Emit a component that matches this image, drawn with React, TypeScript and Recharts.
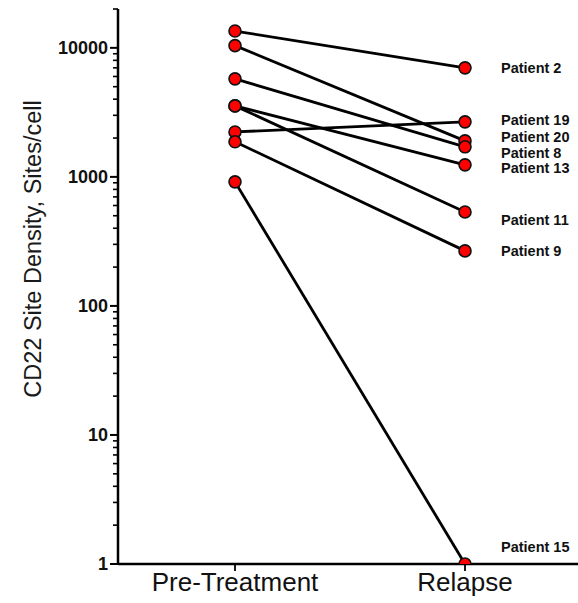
import React from 'react';
import { LineChart, Line, XAxis, YAxis, LabelList } from 'recharts';

const categories = ['Pre-Treatment', 'Relapse'];
const patients = ['Patient 2', 'Patient 20', 'Patient 8', 'Patient 13', 'Patient 11', 'Patient 19', 'Patient 9', 'Patient 15'];
const preTreatment = [13500, 10400, 5750, 3550, 3550, 2230, 1870, 915];
const relapse = [7000, 1900, 1710, 1240, 535, 2670, 267, 1];
const majorTicks = [1, 10, 100, 1000, 10000];
const minorTicks = [2, 3, 4, 5, 6, 7, 8, 9, 20, 30, 40, 50, 60, 70, 80, 90, 200, 300, 400, 500, 600, 700, 800, 900, 2000, 3000, 4000, 5000, 6000, 7000, 8000, 9000, 20000];

const data = categories.map((name, i) => {
    const row: Record<string, string | number> = { name };
    patients.forEach((p, j) => {
        row[p] = i === 0 ? preTreatment[j] : relapse[j];
    });
    return row;
});

// label nudges so the stacked names don't collide
const labelDy: Record<string, number> = {
    'Patient 2': 0,
    'Patient 20': -4,
    'Patient 8': 6,
    'Patient 13': 3,
    'Patient 11': 8,
    'Patient 19': -2,
    'Patient 9': 0,
    'Patient 15': -17,
};

const FONT = 'Arial, "Liberation Sans", sans-serif';

const YTick = (props: any) => {
    const { x, y, payload } = props;
    const isMajor = majorTicks.includes(payload.value);
    return (
        <g>
            <line x1={x - (isMajor ? 8 : 5)} x2={x} y1={y} y2={y} stroke="#000" strokeWidth={isMajor ? 2 : 1.6} />
            {isMajor && (
                <text x={x - 10} y={y} textAnchor="end" dominantBaseline="central" fontSize={18} fontWeight="bold" fontFamily={FONT} fill="#111">
                    {payload.value}
                </text>
            )}
        </g>
    );
};

const RedDot = (props: any) => {
    const { cx, cy } = props;
    if (cx == null || cy == null) return null;
    return <circle cx={cx} cy={cy} r={6} fill="#ff0000" stroke="#111" strokeWidth={1.6} />;
};

const App: React.FC = () => {
    const allTicks = [...majorTicks, ...minorTicks].sort((a, b) => a - b);
    return (
        <div style={{ position: 'absolute', left: 0, top: 0, background: '#fff' }}>
            <LineChart width={578} height={603} data={data} margin={{ top: 9, right: 0, left: 0, bottom: 0 }}>
                <XAxis
                    dataKey="name"
                    type="category"
                    scale="point"
                    padding={{ left: 117, right: 113 }}
                    height={39}
                    axisLine={{ stroke: '#000', strokeWidth: 2.5 }}
                    tickLine={{ stroke: '#000', strokeWidth: 1.8 }}
                    tickSize={7}
                    tickMargin={2}
                    tick={{ fontSize: 26, fontFamily: FONT, fill: '#111' }}
                    interval={0}
                />
                <YAxis
                    type="number"
                    scale="log"
                    domain={[1, 20000]}
                    allowDataOverflow
                    ticks={allTicks}
                    interval={0}
                    width={118}
                    tickSize={0}
                    tickMargin={0}
                    tickLine={false}
                    axisLine={{ stroke: '#000', strokeWidth: 2.5 }}
                    tick={(props: any) => <YTick {...props} />}
                    label={{
                        content: () => (
                            <text
                                x={33}
                                y={249}
                                transform="rotate(-90 33 249)"
                                textAnchor="middle"
                                dominantBaseline="central"
                                fontSize={23.5}
                                fontFamily={FONT}
                                fill="#1a1a1a"
                            >
                                CD22 Site Density, Sites/cell
                            </text>
                        ),
                    }}
                />
                {patients.map((p) => (
                    <Line key={p} dataKey={p} stroke="#000" strokeWidth={2.8} dot={false} activeDot={false} isAnimationActive={false} />
                ))}
                {patients.map((p) => (
                    <Line key={p + '-dots'} dataKey={p} stroke="none" dot={<RedDot />} activeDot={false} isAnimationActive={false}>
                        <LabelList
                            dataKey={p}
                            content={(lp: any) =>
                                lp.index === 1 ? (
                                    <text
                                        x={lp.x + 36}
                                        y={lp.y + labelDy[p]}
                                        dominantBaseline="central"
                                        fontSize={14.5}
                                        fontWeight="bold"
                                        fontFamily={FONT}
                                        fill="#111"
                                    >
                                        {p}
                                    </text>
                                ) : null
                            }
                        />
                    </Line>
                ))}
            </LineChart>
        </div>
    );
};

export default App;
